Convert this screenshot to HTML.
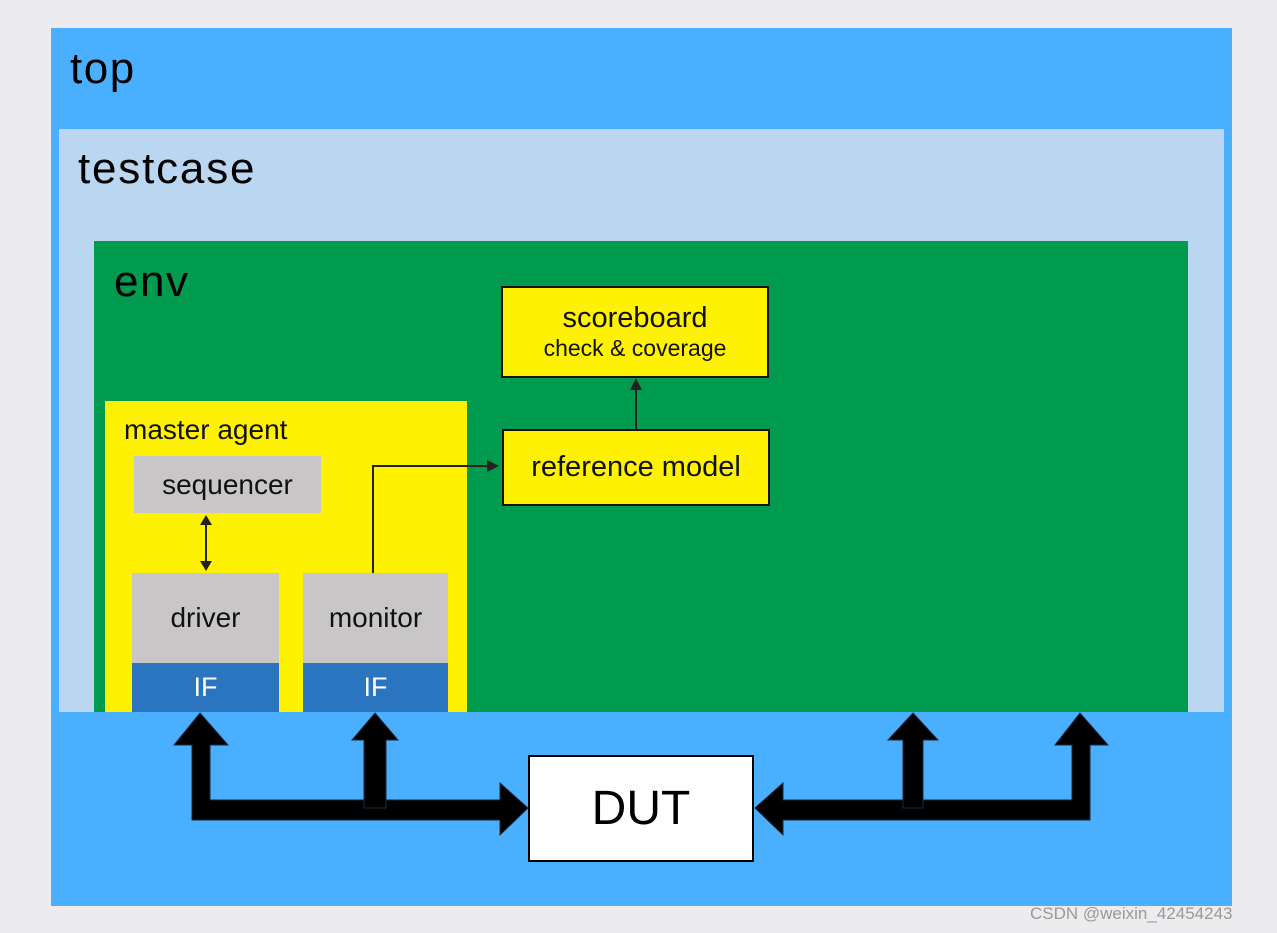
<!DOCTYPE html>
<html><head><style>
body{margin:0;width:1277px;height:933px;background:#ececee;position:relative;overflow:hidden;font-family:"Liberation Sans",sans-serif}
div{position:absolute;box-sizing:border-box}
.t{display:flex;align-items:center;justify-content:center;color:#111}
</style></head><body>
<div style="left:51px;top:28px;width:1181px;height:878px;background:#4aafff"></div>
<div style="left:70px;top:44px;font-size:44px;letter-spacing:1.5px;color:#000">top</div>
<div style="left:59px;top:129px;width:1165px;height:583px;background:#bad6f0"></div>
<div style="left:78px;top:144px;font-size:44px;letter-spacing:1.8px;color:#000">testcase</div>
<div style="left:94px;top:241px;width:1094px;height:471px;background:#009b4e"></div>
<div style="left:114px;top:257px;font-size:44px;letter-spacing:1.5px;color:#000">env</div>
<div style="left:105px;top:401px;width:362px;height:311px;background:#fff200"></div>
<div style="left:124px;top:414px;font-size:28px;color:#111">master agent</div>
<div class="t" style="left:134px;top:456px;width:187px;height:57px;background:#c8c6c7;font-size:28px">sequencer</div>
<div class="t" style="left:132px;top:573px;width:147px;height:90px;background:#c8c6c7;font-size:28px">driver</div>
<div class="t" style="left:132px;top:663px;width:147px;height:49px;background:#2b74bf;color:#fff;font-size:27px">IF</div>
<div class="t" style="left:303px;top:573px;width:145px;height:90px;background:#c8c6c7;font-size:28px">monitor</div>
<div class="t" style="left:303px;top:663px;width:145px;height:49px;background:#2b74bf;color:#fff;font-size:27px">IF</div>
<div class="t" style="left:501px;top:286px;width:268px;height:92px;background:#fff200;border:2px solid #111;flex-direction:column;font-size:29px;line-height:33px">scoreboard<span style="font-size:23px;line-height:27px">check &amp; coverage</span></div>
<div class="t" style="left:502px;top:429px;width:268px;height:77px;background:#fff200;border:2px solid #111;font-size:29px">reference model</div>
<div class="t" style="left:528px;top:755px;width:226px;height:107px;background:#fff;border:2px solid #000;font-size:48px;color:#000">DUT</div>
<svg style="position:absolute;left:0;top:0" width="1277" height="933">
<g stroke="#222" stroke-width="2" fill="#222">
<line x1="206" y1="523" x2="206" y2="563"/>
<polygon points="206,515 200,525 212,525" stroke="none"/>
<polygon points="206,571 200,561 212,561" stroke="none"/>
<polyline points="373,573 373,466 490,466" fill="none"/>
<polygon points="499,466 487,460 487,472" stroke="none"/>
<line x1="636" y1="429" x2="636" y2="388"/>
<polygon points="636,378 630,390 642,390" stroke="none"/>
</g>
<g fill="#000" stroke="#1a2a3a" stroke-width="1">
<polygon points="200,713 228,745 210,745 210,800 500,800 500,783 528,808 500,835 500,820 192,820 192,745 174,745"/>
<polygon points="375,713 398,740 386,740 386,808 364,808 364,740 352,740"/>
<polygon points="755,808 783,783 783,800 1072,800 1072,745 1055,745 1080,713 1108,745 1090,745 1090,820 783,820 783,835"/>
<polygon points="913,713 938,740 923,740 923,808 903,808 903,740 888,740"/>
</g>
</svg>
<div style="left:1030px;top:904px;font-size:17px;color:#999">CSDN @weixin_42454243</div>
</body></html>
